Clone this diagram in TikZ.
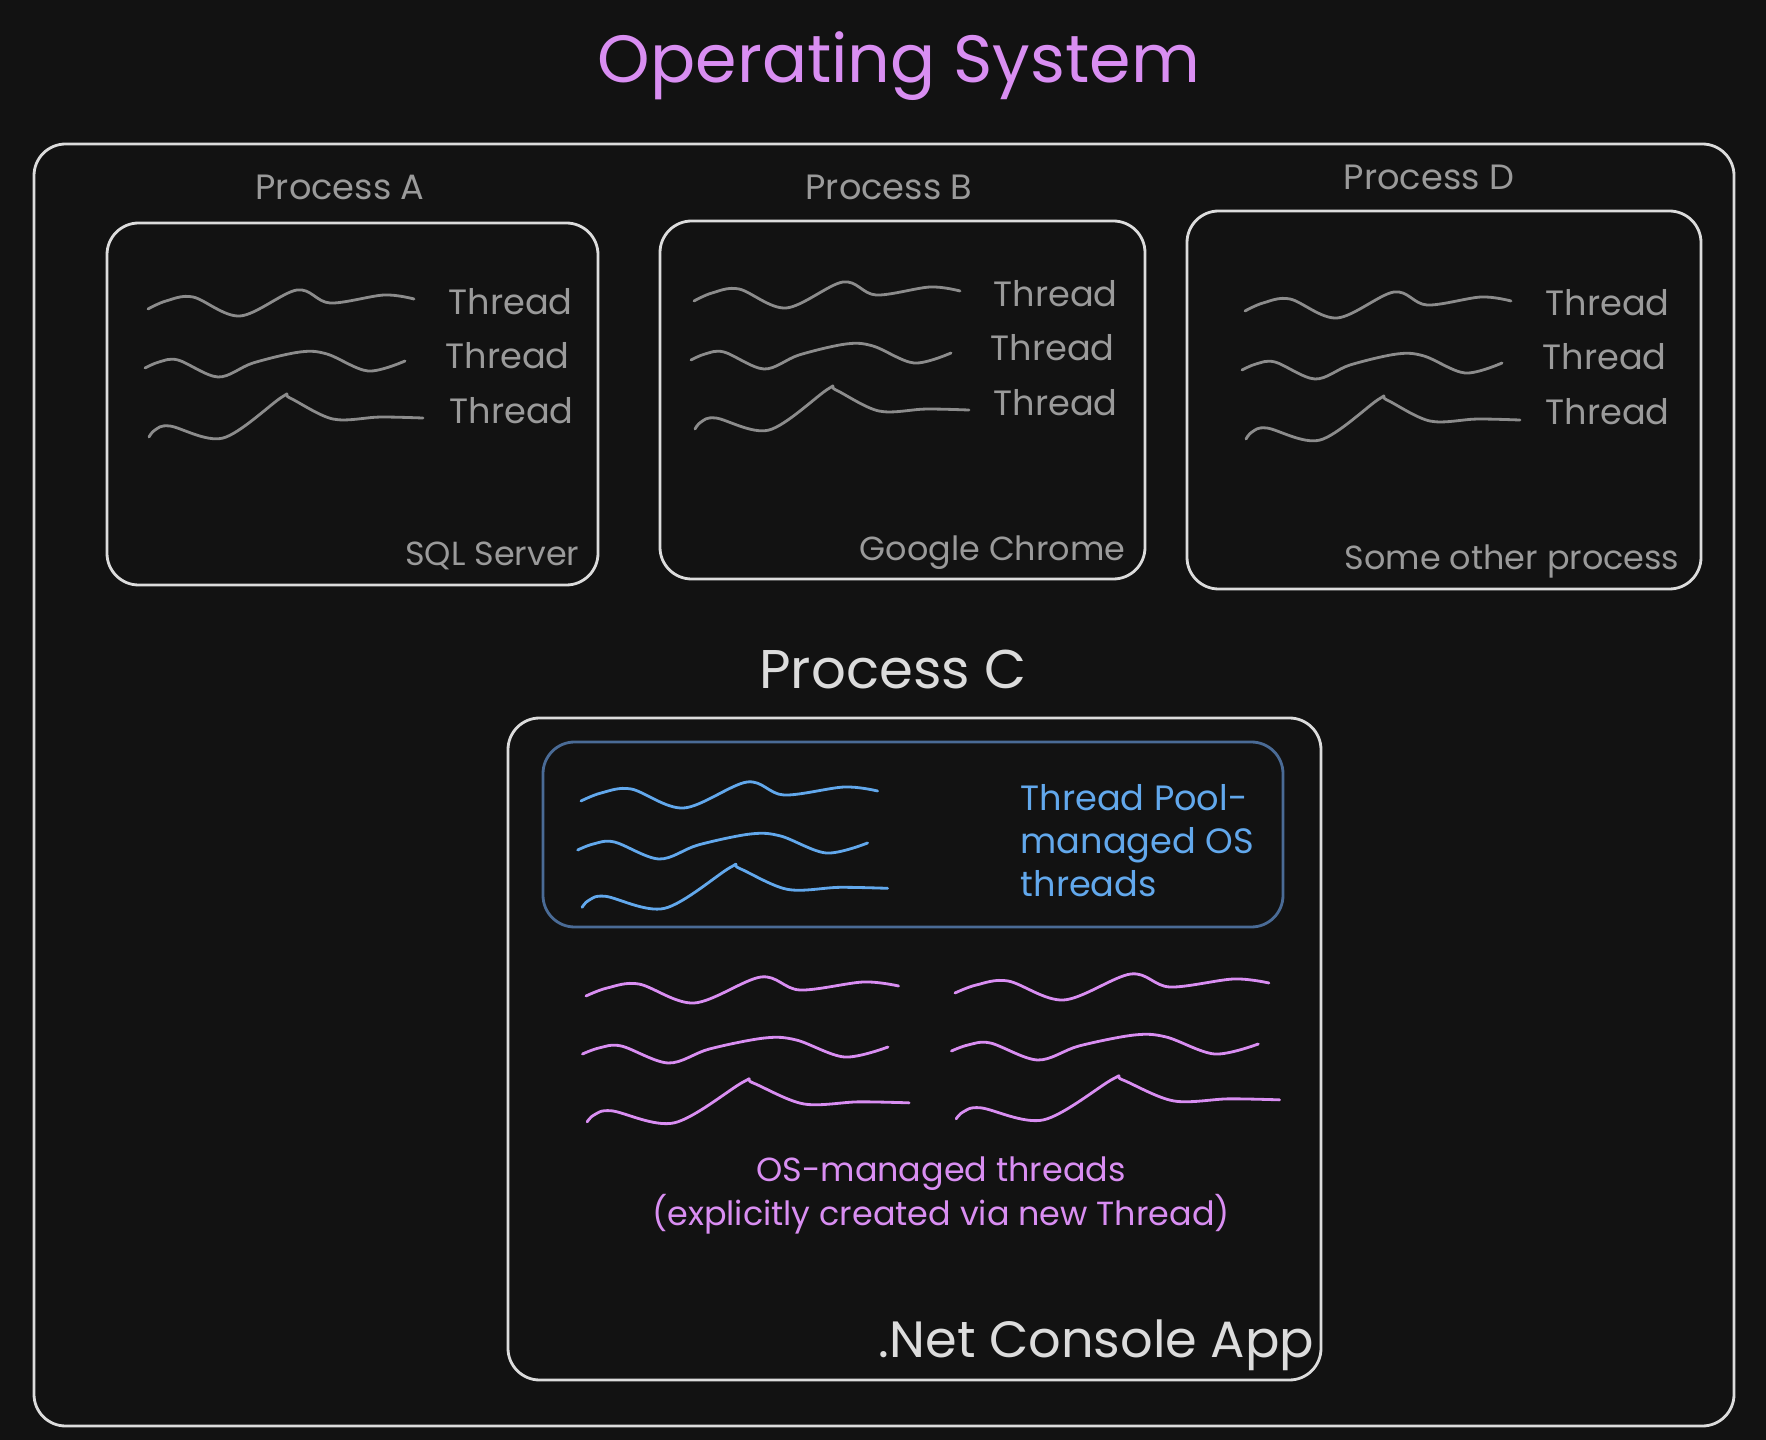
\documentclass[tikz,border=0pt]{standalone}
\usepackage{fontspec}
\setmainfont{Poppins}
\definecolor{bgdark}{HTML}{121212}
\definecolor{boxline}{HTML}{DCDCDC}
\definecolor{greyline}{HTML}{8C8C8C}
\definecolor{greytext}{HTML}{9A9A9A}
\definecolor{osviolet}{HTML}{D98EF2}
\definecolor{poolblue}{HTML}{62A8EC}
\definecolor{poolframe}{HTML}{4A6B96}
% three wavy threads: x, y, xscale, row gap, colour
\newcommand\threadwaves[5]{%
  \begin{scope}[shift={(#1,#2)},xscale=#3]
    \draw[wave,#5] plot[smooth,tension=0.55] coordinates
      {(0,0) (18,-8) (45,-12) (92,7) (149,-19) (182,-6) (236,-14) (266,-10)};
    \draw[wave,#5,shift={(-3,#4)}] plot[smooth,tension=0.55] coordinates
      {(0,0) (14,-6) (33,-8) (73,9) (108,-5) (155,-16) (182,-14) (223,3) (260,-7)};
    \draw[wave,#5,shift={(1,2.17*#4)}] plot[smooth,tension=0.55] coordinates
      {(0,0) (6,-7) (21,-11) (74,1) (133,-40) (141,-39) (184,-18) (231,-20) (274,-19)};
  \end{scope}}
\begin{document}
\begin{tikzpicture}[x=0.01cm,y=-0.01cm,
  box/.style={draw=boxline,line width=0.8pt,rounded corners=9pt},
  wave/.style={line width=0.8pt,line cap=round,line join=round},
  lbl/.style={inner sep=0pt,text=greytext,font=\fontsize{10}{12}\selectfont},
  applbl/.style={lbl,font=\fontsize{9.5}{11}\selectfont},
  headtext/.style={inner sep=0pt,text=osviolet,font=\fontsize{19}{23}\selectfont},
  bigtext/.style={inner sep=0pt,text=boxline,font=\fontsize{15.5}{19}\selectfont},
  pooltext/.style={inner sep=0pt,text=poolblue,align=left,font=\fontsize{10}{12.2}\selectfont},
  ostext/.style={inner sep=0pt,text=osviolet,align=center,font=\fontsize{9.5}{11.3}\selectfont}]
\useasboundingbox (0,0) rectangle (1766,1440);
\fill[bgdark] (0,0) rectangle (1766,1440);

\node[headtext,anchor=base] (ostitle) at (899,83) {Operating System};
\draw[box] (34,144) rectangle (1734,1426);

% process A
\node[lbl,anchor=base] (labA) at (340,200) {Process A};
\draw[box] (107,223) rectangle (598,585);
\threadwaves{148}{309}{1}{59}{greyline}
\node[lbl,anchor=base west] (thA1) at (448,315) {Thread};
\node[lbl,anchor=base west] (thA2) at (445,369) {Thread};
\node[lbl,anchor=base west] (thA3) at (449,424) {Thread};
\node[applbl,anchor=base east] (appA) at (580,566) {SQL Server};

% process B
\node[lbl,anchor=base] (labB) at (889,200) {Process B};
\draw[box] (660,221) rectangle (1145,579);
\threadwaves{694}{301}{1}{59}{greyline}
\node[lbl,anchor=base west] (thB1) at (993,307) {Thread};
\node[lbl,anchor=base west] (thB2) at (990,361) {Thread};
\node[lbl,anchor=base west] (thB3) at (993,416) {Thread};
\node[applbl,anchor=base east] (appB) at (1126,561) {Google Chrome};

% process D
\node[lbl,anchor=base] (labD) at (1429,190) {Process D};
\draw[box] (1187,211) rectangle (1701,589);
\threadwaves{1245}{311}{1}{59}{greyline}
\node[lbl,anchor=base west] (thD1) at (1545,316) {Thread};
\node[lbl,anchor=base west] (thD2) at (1542,370) {Thread};
\node[lbl,anchor=base west] (thD3) at (1545,425) {Thread};
\node[applbl,anchor=base east] (appD) at (1680,570) {Some other process};

% process C
\node[bigtext,anchor=base] (labC) at (893,689) {Process C};
\draw[box] (508,718) rectangle (1321,1380);
\draw[box,draw=poolframe] (543,742) rectangle (1283,927);
\threadwaves{581}{801}{1.115}{49}{poolblue}
\node[pooltext,anchor=north west] (pool) at (1020,784) {Thread Pool-\\managed OS\\threads};
\threadwaves{586}{996}{1.175}{58}{osviolet}
\threadwaves{955}{993}{1.18}{58}{osviolet}
\node[ostext,anchor=north] (osthreads) at (941,1156) {OS-managed threads\\(explicitly created via new Thread)};
\node[bigtext,anchor=base east,font=\fontsize{14.5}{18}\selectfont] (appC) at (1315,1357) {.Net Console App};
\end{tikzpicture}
\end{document}
